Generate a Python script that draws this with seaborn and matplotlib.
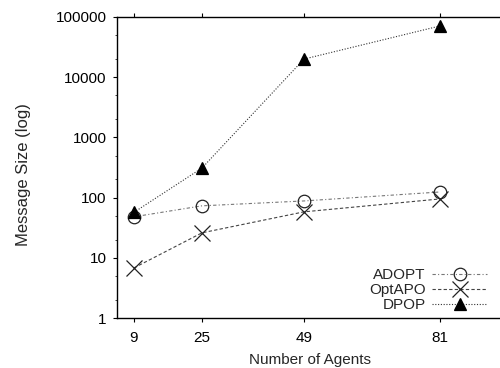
import numpy as np
import pandas as pd
import matplotlib
matplotlib.use("Agg")
import matplotlib.pyplot as plt
import seaborn as sns
from matplotlib.ticker import LogLocator, NullFormatter, FixedLocator

agents = [9, 25, 49, 81]
adopt = [48, 73, 88, 124]
optapo = [6.8, 26, 58, 95]
dpop = [57, 310, 20000, 71000]
series = ["ADOPT", "OptAPO", "DPOP"]
ytick_labels = ["1", "10", "100", "1000", "10000", "100000"]

df = pd.DataFrame({
    "agents": agents * 3,
    "size": adopt + optapo + dpop,
    "algo": [s for s in series for _ in agents],
})

sns.set_style("ticks")
plt.rcParams["font.family"] = ["Liberation Sans", "DejaVu Sans"]

fig = plt.figure(figsize=(5, 3.68), dpi=100)
ax = fig.add_axes([117 / 500, 1 - 318 / 368, 390 / 500, 301 / 368])

styles = {
    "ADOPT": dict(marker="o", mfc="none", mec="#222222", ms=9, ls=(0, (3, 2, 1, 2)), color="#777777"),
    "OptAPO": dict(marker="x", mfc="none", mec="#222222", ms=11, ls=(0, (3, 2)), color="#444444", mew=0.9),
    "DPOP": dict(marker="^", mfc="black", mec="black", ms=9, ls=(0, (1, 1.5)), color="#333333"),
}

for name in series:
    sub = df[df["algo"] == name]
    st = styles[name]
    sns.lineplot(data=sub, x="agents", y="size", ax=ax, label=name,
                 color=st["color"], linestyle=st["ls"], lw=0.8,
                 marker=st["marker"], markerfacecolor=st["mfc"],
                 markeredgecolor=st["mec"], markersize=st["ms"],
                 markeredgewidth=st.get("mew", 0.9))

ax.set_yscale("log")
ax.set_ylim(1, 100000)
ax.set_xlim(5, 5 + 390 / 4.25)
ax.set_xticks(agents)
ax.set_xticklabels([str(a) for a in agents])
ax.yaxis.set_major_locator(FixedLocator([float(t) for t in ytick_labels]))
ax.set_yticklabels(ytick_labels)
ax.yaxis.set_minor_locator(LogLocator(base=10, subs=(2, 5)))
ax.yaxis.set_minor_formatter(NullFormatter())

ax.tick_params(axis="both", which="major", direction="out", length=3, width=0.8,
               labelsize=11, colors="black")
ax.tick_params(axis="y", which="major", pad=4.5)
ax.tick_params(axis="x", which="major", pad=6)
ax.tick_params(axis="y", which="minor", direction="out", length=1.8, width=0.6)
ax.tick_params(axis="x", top=True, labeltop=False)
for side in ["left", "bottom", "top"]:
    ax.spines[side].set_visible(True)
    ax.spines[side].set_linewidth(1.0)
    ax.spines[side].set_color("black")
ax.spines["right"].set_visible(False)

ax.set_xlabel("Number of Agents", fontsize=11, va="center")
ax.set_ylabel("Message Size (log)", fontsize=12, va="center")
ax.xaxis.set_label_coords((310 - 117) / 390, (318 - 360) / 301)
ax.yaxis.set_label_coords((24 - 117) / 390, (318 - 175) / 301)

leg = ax.legend(loc="lower right", bbox_to_anchor=((487 - 117) / 390, 0.02), frameon=False,
                markerfirst=False, fontsize=11, handlelength=3.6,
                labelspacing=0.05, handletextpad=0.4, borderaxespad=0.0, borderpad=0.0)
for t in leg.get_texts():
    t.set_ha("right")

fig.savefig("out.png", dpi=100)
